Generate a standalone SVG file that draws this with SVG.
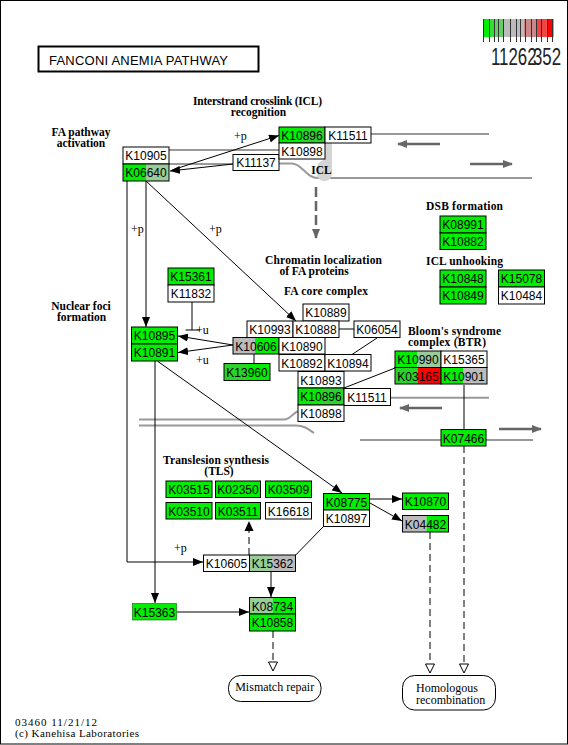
<svg xmlns="http://www.w3.org/2000/svg" width="568" height="745" viewBox="0 0 568 745">
<style>
.b{fill:none;stroke:#000;stroke-width:1}
.w{fill:#fff;stroke:#000;stroke-width:1}
.t{font-family:"Liberation Sans",Arial,sans-serif;font-size:12px;text-anchor:middle;fill:#000}
.h{font-family:"Liberation Serif","Times New Roman",serif;font-weight:bold;font-size:11.5px;text-anchor:middle;fill:#000}
.s{font-family:"Liberation Serif","Times New Roman",serif;font-size:12px;fill:#000}
.f{font-family:"Liberation Serif","Times New Roman",serif;font-size:11px;fill:#000}
.dna{fill:none;stroke:#999;stroke-width:2}
.ga{fill:none;stroke:#666;stroke-width:2.5;marker-end:url(#garr)}
.ln{fill:none;stroke:#000;stroke-width:1}
.ar{fill:none;stroke:#000;stroke-width:1;marker-end:url(#arr)}
.da{fill:none;stroke:#000;stroke-width:1;stroke-dasharray:7,4}
.lg{font-family:"Liberation Sans",Arial,sans-serif;font-size:23px;fill:#222}
</style>
<defs>
<marker id="arr" markerUnits="userSpaceOnUse" markerWidth="10" markerHeight="8" refX="10" refY="4" orient="auto"><path d="M0,0 L10,4 L0,8 Z" fill="#000"/></marker>
<marker id="garr" markerUnits="userSpaceOnUse" markerWidth="10" markerHeight="8" refX="9" refY="4" orient="auto"><path d="M0,0 L10,4 L0,8 Z" fill="#666"/></marker>
</defs>
<rect x="0.5" y="0.5" width="567" height="743.5" fill="#fff" stroke="#000" stroke-width="1"/>

<g id="title"><rect x="38.5" y="46.5" width="220" height="25" fill="#fff" stroke="#000" stroke-width="2"/><text x="49" y="65" font-family="Liberation Sans,Arial,sans-serif" font-size="13" textLength="179" lengthAdjust="spacing">FANCONI ANEMIA PATHWAY</text></g>

<g id="legend">
<rect x="483" y="19" width="6.5" height="18" fill="#00ee00"/>
<rect x="489.5" y="19" width="5" height="18" fill="#33dd33"/>
<rect x="494.5" y="19" width="9" height="18" fill="#66cc66"/>
<rect x="503.5" y="19" width="20" height="18" fill="#bbbbbb"/>
<rect x="523.5" y="19" width="13" height="18" fill="#cc8888"/>
<rect x="536.5" y="19" width="10" height="18" fill="#ee4444"/>
<rect x="546.5" y="19" width="7" height="18" fill="#ff0000"/>
<g stroke="#333" stroke-width="1">
<line x1="483.5" y1="19" x2="483.5" y2="42"/><line x1="489.5" y1="19" x2="489.5" y2="42"/><line x1="494.5" y1="19" x2="494.5" y2="42"/><line x1="498.5" y1="19" x2="498.5" y2="42"/><line x1="503.5" y1="19" x2="503.5" y2="42"/><line x1="510.5" y1="19" x2="510.5" y2="42"/><line x1="516.5" y1="19" x2="516.5" y2="42"/><line x1="520.5" y1="19" x2="520.5" y2="42"/><line x1="525.5" y1="19" x2="525.5" y2="42"/><line x1="531.5" y1="19" x2="531.5" y2="42"/><line x1="536.5" y1="19" x2="536.5" y2="42"/><line x1="541.5" y1="19" x2="541.5" y2="42"/><line x1="547.5" y1="19" x2="547.5" y2="42"/><line x1="552.5" y1="19" x2="552.5" y2="42"/>
</g>
<text class="lg" x="491" y="65" textLength="70" lengthAdjust="spacingAndGlyphs">11262<tspan dx="-5">3</tspan>52</text>
</g>

<g id="dna">
<path class="dna" d="M169,150 H279"/>
<path class="dna" d="M371,134 H489"/>
<path class="dna" d="M169,164 H233"/>
<path class="dna" d="M279,163.5 H292 C302,163.5 306,178 318,178 H532"/>
<path d="M323,143 H332 V172 Q332,181 324.5,181 Q317,181 317,173 V168 Q317,163 323,160 Z" fill="#d4d4d4"/>
<path class="dna" d="M139,419.5 H284 C291,419.5 293,412 299,411"/>
<path class="dna" d="M390.7,397.7 H489"/>
<path class="dna" d="M139,425.5 H296 C304,425.5 308,429 314,433"/>
<path class="dna" d="M360,440 H533"/>
<path class="ga" d="M440,144 H398"/>
<path class="ga" d="M470,164 H512"/>
<path class="ga" d="M442,408 H400"/>
<path class="ga" d="M499,429 H541"/>
<path d="M316,187 V238" fill="none" stroke="#666" stroke-width="2.5" stroke-dasharray="10,4" marker-end="url(#garr)"/>
</g>

<g id="labels">
<text class="h" x="257.5" y="105" textLength="129" lengthAdjust="spacing">Interstrand crosslink (ICL)</text>
<text class="h" x="258.5" y="116">recognition</text>
<text class="h" x="81" y="136">FA pathway</text>
<text class="h" x="81" y="147">activation</text>
<text class="h" x="464.5" y="210" textLength="77" lengthAdjust="spacing">DSB formation</text>
<text class="h" x="464.5" y="265" textLength="77" lengthAdjust="spacing">ICL unhooking</text>
<text class="h" x="323.5" y="264" textLength="117" lengthAdjust="spacing">Chromatin localization</text>
<text class="h" x="314" y="275">of FA proteins</text>
<text class="h" x="326" y="295" textLength="84" lengthAdjust="spacing">FA core complex</text>
<text class="h" x="81" y="310">Nuclear foci</text>
<text class="h" x="81.5" y="321">formation</text>
<text class="h" x="408" y="335" style="text-anchor:start" textLength="93" lengthAdjust="spacing">Bloom's syndrome</text>
<text class="h" x="408" y="345.5" style="text-anchor:start" textLength="78" lengthAdjust="spacing">complex (BTR)</text>
<text class="h" x="216" y="464" textLength="106" lengthAdjust="spacing">Translesion synthesis</text>
<text class="h" x="219" y="475">(TLS)</text>
<text class="h" x="321.5" y="174">ICL</text>
<text class="f" x="15" y="726" textLength="82" lengthAdjust="spacing">03460 11/21/12</text>
<text class="f" x="15" y="737" textLength="124" lengthAdjust="spacing">(c) Kanehisa Laboratories</text>
</g>

<g id="connectors">
<path class="ar" d="M233,164 L170,171"/>
<path class="ar" d="M172,170 L279,135.5"/>
<text class="s" x="234" y="140">+p</text>
<path class="ar" d="M146,181 V327"/>
<text class="s" x="131" y="233">+p</text>
<path class="ar" d="M146,181 L296,321"/>
<text class="s" x="209" y="233">+p</text>
<path class="ar" d="M127,181 V562 H203"/>
<text class="s" x="174" y="552">+p</text>
<path class="ln" d="M192,302 V330 M185.5,330 H200"/>
<path class="ar" d="M233,345 L178,336"/>
<path class="ar" d="M233,345 L178,352.5"/>
<text class="s" x="196" y="334">+u</text>
<text class="s" x="196" y="364">+u</text>
<path class="ln" d="M254,354 V363"/>
<path class="ln" d="M339,329 H354"/>
<path class="ln" d="M377,338 L352,354.5"/>
<path class="ln" d="M395,368 L344,388"/>
<path class="ln" d="M464,385 V429.5"/>
<path class="ar" d="M155,361 V603"/>
<path class="ar" d="M158,361.5 L342,493"/>
<path class="ln" d="M295.7,555 L323.3,526.7"/>
<path class="da" d="M249,555 V530"/>
<path d="M249,521 L253.5,531 L244.5,531 Z" fill="#000"/>
<path class="ar" d="M370,499 H402"/>
<path class="ar" d="M370,503 L402,521"/>
<path class="ar" d="M271,572 V597"/>
<path class="ar" d="M177,612 H249"/>
<path class="da" d="M273,631 V662"/>
<path d="M268.5,662 L277.5,662 L273,671 Z" fill="#fff" stroke="#000"/>
<path class="da" d="M430,532 V664"/>
<path d="M425.5,664 L434.5,664 L430,673 Z" fill="#fff" stroke="#000"/>
<path class="da" d="M464,446 V664"/>
<path d="M459.5,664 L468.5,664 L464,673 Z" fill="#fff" stroke="#000"/>
</g>

<g id="n-K10905"><rect class="w" x="123" y="147" width="46" height="17"/><text class="t" x="146" y="160">K10905</text></g>
<g id="n-K06640"><rect x="123" y="164" width="23" height="17" fill="#00ee00"/><rect x="146" y="164" width="23" height="17" fill="#99cc99"/><rect class="b" x="123" y="164" width="46" height="17"/><text class="t" x="146" y="177">K06640</text></g>
<g id="n-K11137"><rect class="w" x="233" y="154.5" width="46" height="16"/><text class="t" x="256" y="167">K11137</text></g>
<g id="n-K10896a"><rect x="279" y="127" width="23" height="16" fill="#00ee00"/><rect x="302" y="127" width="23" height="16" fill="#2ad42a"/><rect class="b" x="279" y="127" width="46" height="16"/><text class="t" x="302" y="139.5">K10896</text></g>
<g id="n-K11511a"><rect class="w" x="325" y="127" width="46" height="16"/><text class="t" x="348" y="139.5">K11511</text></g>
<g id="n-K10898a"><rect class="w" x="279" y="143" width="46" height="16"/><text class="t" x="302" y="155.5">K10898</text></g>

<g id="n-K08991"><rect x="440" y="216" width="46" height="17" fill="#00ee00" stroke="#000"/><text class="t" x="463" y="229">K08991</text></g>
<g id="n-K10882"><rect x="440" y="233" width="46" height="16.5" fill="#00ee00" stroke="#000"/><text class="t" x="463" y="246">K10882</text></g>
<g id="n-K10848"><rect x="440" y="270" width="46" height="17" fill="#00ee00" stroke="#000"/><text class="t" x="463" y="283">K10848</text></g>
<g id="n-K10849"><rect x="440" y="287" width="46" height="17" fill="#00ee00" stroke="#000"/><text class="t" x="463" y="300">K10849</text></g>
<g id="n-K15078"><rect x="498.5" y="270" width="46" height="17" fill="#00ee00" stroke="#000"/><text class="t" x="521.5" y="283">K15078</text></g>
<g id="n-K10484"><rect class="w" x="498.5" y="287" width="46" height="17"/><text class="t" x="521.5" y="300">K10484</text></g>

<g id="n-K15361"><rect x="168" y="268" width="46" height="17" fill="#00ee00" stroke="#000"/><text class="t" x="191" y="281">K15361</text></g>
<g id="n-K11832"><rect class="w" x="168" y="285" width="46" height="17"/><text class="t" x="191" y="298">K11832</text></g>
<g id="n-K10895"><rect x="131.5" y="327" width="46" height="17" fill="#00ee00" stroke="#000"/><text class="t" x="154.5" y="340">K10895</text></g>
<g id="n-K10891"><rect x="131.5" y="344" width="46" height="17" fill="#00ee00" stroke="#000"/><text class="t" x="154.5" y="357">K10891</text></g>

<g id="n-K10889"><rect class="w" x="303" y="304" width="46" height="17"/><text class="t" x="326" y="317">K10889</text></g>
<g id="n-K10993"><rect class="w" x="247" y="321" width="46" height="16.5"/><text class="t" x="270" y="334">K10993</text></g>
<g id="n-K10888"><rect class="w" x="293" y="321" width="46" height="16.5"/><text class="t" x="316" y="334">K10888</text></g>
<g id="n-K06054"><rect class="w" x="354" y="321" width="46" height="16.5"/><text class="t" x="377" y="334">K06054</text></g>
<g id="n-K10606"><rect x="233" y="337.5" width="22" height="16.5" fill="#bbbbbb"/><rect x="255" y="337.5" width="24" height="16.5" fill="#00ee00"/><rect class="b" x="233" y="337.5" width="46" height="16.5"/><text class="t" x="256" y="350.5">K10606</text></g>
<g id="n-K10890"><rect class="w" x="279" y="337.5" width="46" height="16.5"/><text class="t" x="302" y="350.5">K10890</text></g>
<g id="n-K10892"><rect class="w" x="279" y="354.5" width="46" height="16.5"/><text class="t" x="302" y="367.5">K10892</text></g>
<g id="n-K10894"><rect class="w" x="325" y="354.5" width="46" height="16.5"/><text class="t" x="348" y="367.5">K10894</text></g>
<g id="n-K10893"><rect class="w" x="298" y="371.5" width="46" height="16.5"/><text class="t" x="321" y="384.5">K10893</text></g>
<g id="n-K10896b"><rect x="298" y="388" width="23" height="17" fill="#00ee00"/><rect x="321" y="388" width="23" height="17" fill="#2ad42a"/><rect class="b" x="298" y="388" width="46" height="17"/><text class="t" x="321" y="401">K10896</text></g>
<g id="n-K11511b"><rect class="w" x="344" y="388.5" width="46.5" height="17"/><text class="t" x="367" y="401.5">K11511</text></g>
<g id="n-K10898b"><rect class="w" x="298" y="405" width="46" height="16.5"/><text class="t" x="321" y="418">K10898</text></g>
<g id="n-K13960"><rect x="224" y="363.5" width="23" height="17" fill="#2ad42a"/><rect x="247" y="363.5" width="23" height="17" fill="#00ee00"/><rect class="b" x="224" y="363.5" width="46" height="17"/><text class="t" x="247" y="376.5">K13960</text></g>

<g id="n-K10990"><rect x="395" y="351" width="22.5" height="16.5" fill="#00ee00"/><rect x="417.5" y="351" width="23.5" height="16.5" fill="#99cc99"/><rect class="b" x="395" y="351" width="46" height="16.5"/><text class="t" x="418" y="364">K10990</text></g>
<g id="n-K15365"><rect class="w" x="441" y="351" width="46" height="16.5"/><text class="t" x="464" y="364">K15365</text></g>
<g id="n-K03165"><rect x="395" y="367.5" width="22.5" height="16.5" fill="#2ad42a"/><rect x="417.5" y="367.5" width="23.5" height="16.5" fill="#ff0000"/><rect class="b" x="395" y="367.5" width="46" height="16.5"/><text class="t" x="418" y="380.5">K03165</text></g>
<g id="n-K10901"><rect x="441" y="367.5" width="22.5" height="16.5" fill="#00ee00"/><rect x="463.5" y="367.5" width="23.5" height="16.5" fill="#bbbbbb"/><rect class="b" x="441" y="367.5" width="46" height="16.5"/><text class="t" x="464" y="380.5">K10901</text></g>
<g id="n-K07466"><rect x="441" y="429.5" width="45" height="16.5" fill="#00ee00" stroke="#000"/><text class="t" x="463.5" y="442.5">K07466</text></g>

<g id="n-K03515"><rect x="166" y="481" width="46" height="16.5" fill="#00ee00" stroke="#000"/><text class="t" x="189" y="494">K03515</text></g>
<g id="n-K02350"><rect x="215.5" y="481" width="45" height="16.5" fill="#00ee00" stroke="#000"/><text class="t" x="238" y="494">K02350</text></g>
<g id="n-K03509"><rect x="265.5" y="481" width="46" height="16.5" fill="#00ee00" stroke="#000"/><text class="t" x="288.5" y="494">K03509</text></g>
<g id="n-K03510"><rect x="166" y="502.5" width="46" height="16.5" fill="#00ee00" stroke="#000"/><text class="t" x="189" y="515.5">K03510</text></g>
<g id="n-K03511"><rect x="215.5" y="502.5" width="45" height="16.5" fill="#00ee00" stroke="#000"/><text class="t" x="238" y="515.5">K03511</text></g>
<g id="n-K16618"><rect class="w" x="265.5" y="502.5" width="46" height="16.5"/><text class="t" x="288.5" y="515.5">K16618</text></g>

<g id="n-K08775"><rect x="323.5" y="493.5" width="46" height="16.5" fill="#00ee00" stroke="#000"/><text class="t" x="346.5" y="506.5">K08775</text></g>
<g id="n-K10897"><rect class="w" x="323.5" y="510" width="46" height="16.5"/><text class="t" x="346.5" y="523">K10897</text></g>
<g id="n-K10870"><rect x="402.5" y="493" width="46" height="16.5" fill="#00ee00" stroke="#000"/><text class="t" x="425.5" y="506">K10870</text></g>
<g id="n-K04482"><rect x="402.5" y="515.5" width="24" height="16.5" fill="#bbbbbb"/><rect x="426.5" y="515.5" width="22" height="16.5" fill="#00ee00"/><rect class="b" x="402.5" y="515.5" width="46" height="16.5"/><text class="t" x="425.5" y="528.5">K04482</text></g>

<g id="n-K10605"><rect class="w" x="203.5" y="555" width="46" height="16.5"/><text class="t" x="226.5" y="568">K10605</text></g>
<g id="n-K15362"><rect x="249.5" y="555" width="22.5" height="16.5" fill="#99cc99"/><rect x="272" y="555" width="23.5" height="16.5" fill="#bbbbbb"/><rect class="b" x="249.5" y="555" width="46" height="16.5"/><text class="t" x="272.5" y="568">K15362</text></g>
<g id="n-K15363"><rect x="132.5" y="603.5" width="44" height="16.5" fill="#00ee00" stroke="#006600" stroke-width="0.6"/><text class="t" x="154.5" y="616.5">K15363</text></g>
<g id="n-K08734"><rect x="249.5" y="597.5" width="23" height="16.5" fill="#99cc99"/><rect x="272.5" y="597.5" width="23" height="16.5" fill="#00ee00"/><rect class="b" x="249.5" y="597.5" width="46" height="16.5"/><text class="t" x="272.5" y="610.5">K08734</text></g>
<g id="n-K10858"><rect x="249.5" y="614" width="46" height="17" fill="#00ee00" stroke="#000"/><text class="t" x="272.5" y="627">K10858</text></g>

<g id="n-mismatch"><rect x="228.5" y="675.5" width="92.5" height="26" rx="12" fill="#fff" stroke="#000"/><text class="s" x="274.7" y="691" text-anchor="middle">Mismatch repair</text></g>
<g id="n-hr"><rect x="402.5" y="675.5" width="93" height="34.5" rx="12" fill="#fff" stroke="#000"/><text class="s" x="416" y="692">Homologous</text><text class="s" x="416" y="704">recombination</text></g>
</svg>
